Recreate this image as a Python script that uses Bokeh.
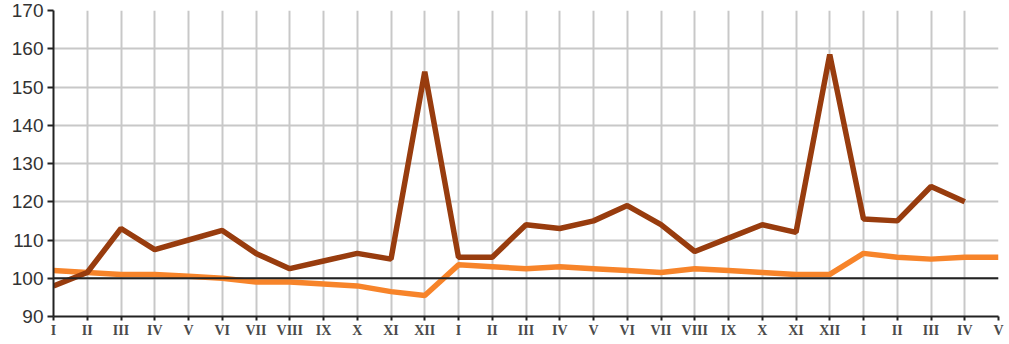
from bokeh.plotting import figure
from bokeh.models import FixedTicker, Span, Range1d
from bokeh.embed import file_html
from bokeh.resources import INLINE

months = ["I", "II", "III", "IV", "V", "VI", "VII", "VIII", "IX", "X", "XI", "XII"]
tick_labels = months + months + months[:5]

series_dark = [98, 101.5, 113, 107.5, 110, 112.5, 106.5, 102.5, 104.5, 106.5, 105, 154,
               105.5, 105.5, 114, 113, 115, 119, 114, 107, 110.5, 114, 112, 158.5,
               115.5, 115, 124, 120]
series_orange = [102, 101.5, 101, 101, 100.5, 100, 99, 99, 98.5, 98, 96.5, 95.5,
                 103.5, 103, 102.5, 103, 102.5, 102, 101.5, 102.5, 102, 101.5, 101, 101,
                 106.5, 105.5, 105, 105.5, 105.5]
y_ticks = [90, 100, 110, 120, 130, 140, 150, 160, 170]

p = figure(width=1009, height=344, output_backend="svg", toolbar_location=None,
           x_range=Range1d(0, len(tick_labels) - 1), y_range=Range1d(90, 170),
           min_border_left=53, min_border_right=11, min_border_top=10, min_border_bottom=28)
p.outline_line_color = None
p.background_fill_color = "white"
p.border_fill_color = "white"

p.xaxis.ticker = FixedTicker(ticks=list(range(len(tick_labels))))
p.xaxis.major_label_overrides = {i: t for i, t in enumerate(tick_labels)}
p.yaxis.ticker = FixedTicker(ticks=y_ticks)

p.xgrid.grid_line_color = "#c8c8c8"
p.xgrid.grid_line_width = 2
p.ygrid.grid_line_color = "#c8c8c8"
p.ygrid.grid_line_width = 2

for ax in (p.xaxis, p.yaxis):
    ax.axis_line_color = "#222222"
    ax.axis_line_width = 2
    ax.major_tick_line_color = "#222222"
    ax.major_tick_line_width = 2
    ax.minor_tick_line_color = None
    ax.major_tick_in = 0

p.xaxis.major_tick_out = 4
p.yaxis.major_tick_out = 6
p.xaxis.major_label_text_font = "Liberation Serif"
p.xaxis.major_label_text_font_size = "14px"
p.xaxis.major_label_text_font_style = "bold"
p.xaxis.major_label_text_color = "#4a4a4a"
p.xaxis.major_label_standoff = 2
p.yaxis.major_label_text_font = "Liberation Sans"
p.yaxis.major_label_text_font_size = "19px"
p.yaxis.major_label_text_color = "#333333"
p.yaxis.major_label_standoff = 4

p.add_layout(Span(location=100, dimension="width", line_color="#222222", line_width=2))

p.line(list(range(len(series_orange))), series_orange, line_color="#F7842A", line_width=5.5)
p.line(list(range(len(series_dark))), series_dark, line_color="#983C0E", line_width=5.5)

open("out.html", "w").write(file_html(p, INLINE))
